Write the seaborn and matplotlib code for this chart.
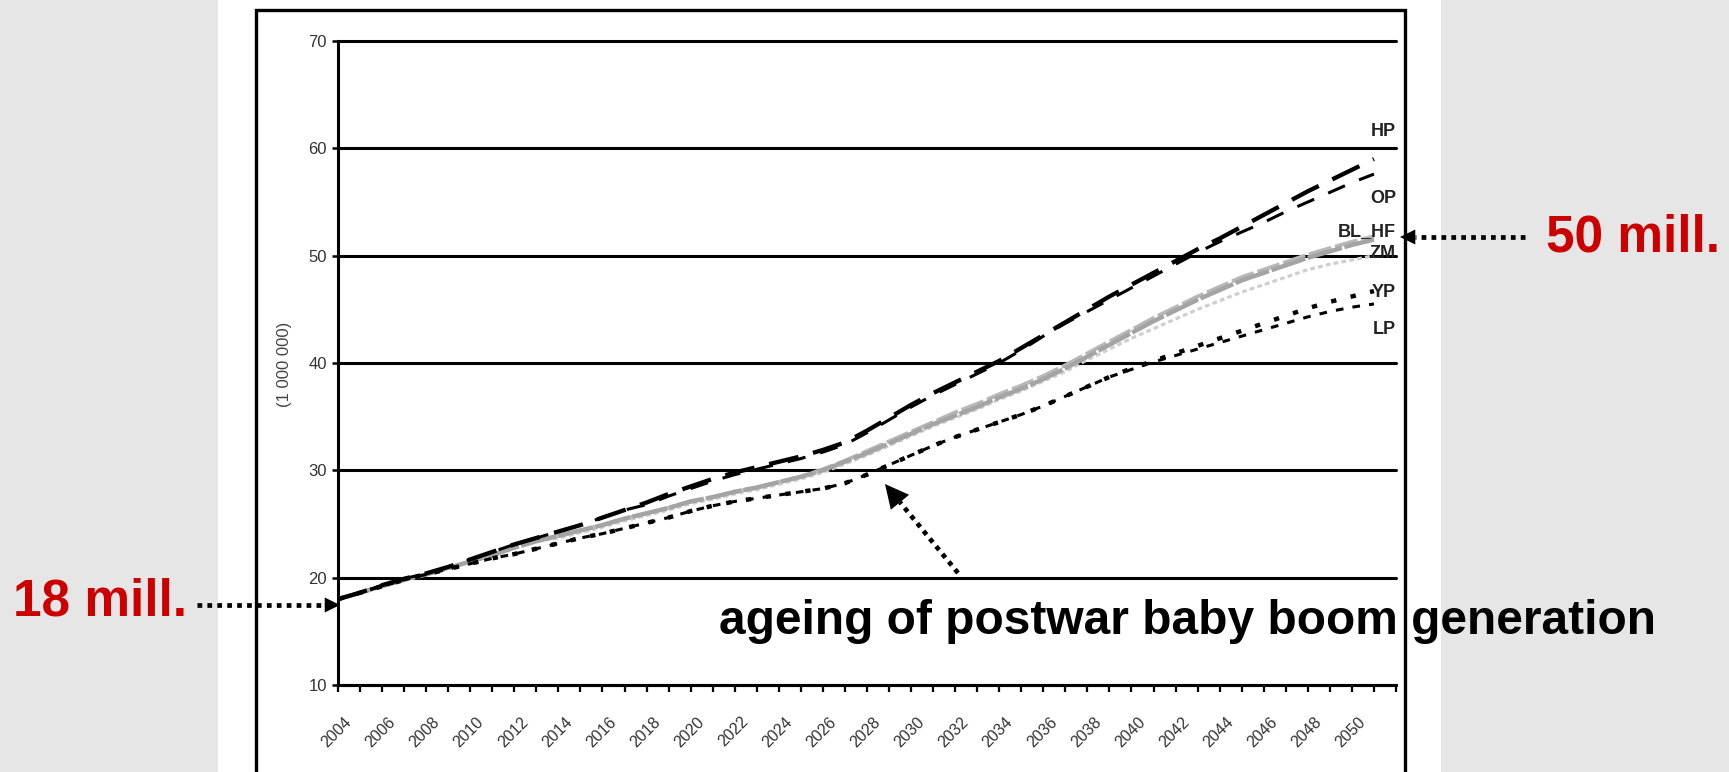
import matplotlib
matplotlib.use("Agg")
import matplotlib.pyplot as plt
from matplotlib.patches import Rectangle, FancyArrowPatch
from matplotlib.lines import Line2D
import matplotlib.transforms as mtransforms
import seaborn as sns
import pandas as pd

# ---------------- data ----------------
years = list(range(2004, 2052))

HP = [18.0, 18.6, 19.3, 19.9, 20.4, 21.0, 21.7, 22.4, 23.1, 23.7,
      24.3, 24.9, 25.6, 26.3, 27.0, 27.8, 28.5, 29.2, 29.8, 30.3,
      30.8, 31.3, 31.9, 32.6, 33.7, 34.9, 36.1, 37.2, 38.2, 39.2,
      40.2, 41.4, 42.6, 43.8, 45.0, 46.2, 47.3, 48.4, 49.5, 50.6,
      51.6, 52.7, 53.8, 54.9, 56.0, 57.0, 58.0, 59.0]
OP = [18.0, 18.6, 19.3, 19.9, 20.4, 21.0, 21.7, 22.4, 23.1, 23.7,
      24.3, 24.9, 25.6, 26.3, 26.8, 27.6, 28.3, 29.0, 29.6, 30.1,
      30.6, 31.1, 31.7, 32.4, 33.5, 34.7, 35.9, 37.0, 38.0, 39.0,
      40.0, 41.2, 42.5, 43.7, 44.8, 45.9, 47.0, 48.1, 49.2, 50.3,
      51.3, 52.2, 53.1, 54.1, 55.0, 55.9, 56.8, 57.6]
BL = [18.0, 18.6, 19.2, 19.8, 20.3, 20.9, 21.5, 22.1, 22.8, 23.4,
      23.9, 24.4, 24.9, 25.5, 26.0, 26.5, 27.1, 27.5, 28.0, 28.4,
      28.9, 29.4, 30.0, 30.8, 31.6, 32.5, 33.4, 34.3, 35.1, 35.9,
      36.8, 37.6, 38.5, 39.5, 40.6, 41.7, 42.8, 43.9, 44.9, 45.9,
      46.8, 47.7, 48.4, 49.1, 49.8, 50.4, 51.0, 51.5]
HF = [18.0, 18.6, 19.2, 19.8, 20.3, 20.9, 21.5, 22.1, 22.8, 23.4,
      23.9, 24.4, 24.9, 25.5, 26.0, 26.5, 27.1, 27.5, 28.0, 28.4,
      28.9, 29.4, 30.1, 30.9, 31.8, 32.7, 33.6, 34.5, 35.4, 36.2,
      37.1, 37.9, 38.8, 39.8, 40.9, 42.0, 43.1, 44.2, 45.2, 46.2,
      47.1, 48.0, 48.7, 49.4, 50.1, 50.7, 51.3, 51.8]
ZM = [18.0, 18.6, 19.2, 19.8, 20.3, 20.9, 21.5, 22.1, 22.8, 23.4,
      23.7, 24.2, 24.7, 25.3, 25.8, 26.3, 26.9, 27.3, 27.8, 28.2,
      28.7, 29.2, 29.8, 30.6, 31.4, 32.3, 33.2, 34.1, 34.9, 35.7,
      36.6, 37.4, 38.3, 39.2, 40.3, 41.3, 42.3, 43.2, 44.1, 45.0,
      45.8, 46.6, 47.3, 48.0, 48.7, 49.2, 49.6, 50.0]
YP = [18.0, 18.6, 19.2, 19.8, 20.3, 20.8, 21.3, 21.8, 22.2, 22.7,
      23.2, 23.7, 24.1, 24.6, 25.1, 25.6, 26.2, 26.7, 27.1, 27.4,
      27.7, 28.0, 28.3, 28.8, 29.6, 30.5, 31.4, 32.3, 33.1, 33.8,
      34.5, 35.2, 36.0, 36.9, 37.8, 38.7, 39.5, 40.2, 40.9, 41.6,
      42.3, 43.0, 43.7, 44.4, 45.1, 45.7, 46.2, 46.7]
LP = [18.0, 18.6, 19.2, 19.8, 20.3, 20.8, 21.3, 21.8, 22.2, 22.7,
      23.2, 23.7, 24.1, 24.6, 25.1, 25.6, 26.2, 26.7, 27.1, 27.4,
      27.7, 28.0, 28.3, 28.8, 29.6, 30.5, 31.4, 32.3, 33.1, 33.8,
      34.5, 35.2, 36.0, 36.9, 37.8, 38.7, 39.4, 40.1, 40.7, 41.3,
      41.9, 42.5, 43.1, 43.7, 44.3, 44.8, 45.2, 45.5]

series_names = ["ZM", "HF", "BL", "LP", "YP", "OP", "HP"]
series_values = {"HP": HP, "OP": OP, "BL": BL, "HF": HF, "ZM": ZM, "YP": YP, "LP": LP}

end_labels = ["HP", "OP", "BL_HF", "ZM", "YP", "LP"]
end_label_y = [61.6, 55.3, 52.2, 50.2, 46.6, 43.1]

y_ticks = [10, 20, 30, 40, 50, 60, 70]
x_label_years = list(range(2004, 2051, 2))

# ---------------- styles ----------------
styles = {
    "HP": dict(color="black", lw=3.1, dashes=(7, 3.5)),
    "OP": dict(color="black", lw=2.2, dashes=(6, 5)),
    "BL": dict(color="#a4a4a4", lw=3.2, dashes=(8, 0.6)),
    "HF": dict(color="#b8b8b8", lw=2.8, dashes=(6, 1.0)),
    "ZM": dict(color="#cfcfcf", lw=2.3, dashes=(1.5, 1.0)),
    "YP": dict(color="black", lw=3.2, dashes=(1.2, 3.3)),
    "LP": dict(color="black", lw=2.2, dashes=(2.5, 3.0)),
}

sns.set_style("white")
plt.rcParams["font.family"] = ["Liberation Sans", "DejaVu Sans"]

W, H = 1729, 772
fig = plt.figure(figsize=(W / 100, H / 100), dpi=100)
fig.patch.set_facecolor("#e6e6e6")


def fx(px):
    return px / W


def fy(py):
    return 1 - py / H


# white panel and black frame
fig.add_artist(Rectangle((fx(218), 0), fx(1441) - fx(218), 1, transform=fig.transFigure,
                         facecolor="white", edgecolor="none", zorder=-5))
fig.add_artist(Rectangle((fx(256), -0.1), fx(1405) - fx(256), fy(10) + 0.1,
                         transform=fig.transFigure, facecolor="none",
                         edgecolor="black", lw=2.4, zorder=2))

ax = fig.add_axes([fx(338), 1 - 685 / H, fx(1396) - fx(338), (685 - 41) / H])
ax.set_facecolor("none")

df = pd.DataFrame([(s, y, v) for s in series_names for y, v in zip(years, series_values[s])],
                  columns=["series", "year", "value"])

for s in series_names:
    st = styles[s]
    sns.lineplot(data=df[df["series"] == s], x="year", y="value", ax=ax,
                 color=st["color"], lw=st["lw"], legend=False, zorder=3)
    ln = ax.lines[-1]
    ln.set_dashes(st["dashes"])
    ln.set_dash_capstyle("butt")

ax.set_xlim(2004, 2052)
ax.set_ylim(10, 70)
ax.set_yticks(y_ticks)
ax.set_xticks(list(range(2004, 2053)))
ax.set_xticklabels([str(y) if y in x_label_years else "" for y in range(2004, 2053)])
ax.set_xlabel("")
ax.set_ylabel("")

ax.yaxis.grid(True, color="black", lw=2.2)
ax.xaxis.grid(False)
ax.set_axisbelow(True)
for gl in ax.get_ygridlines():
    gl.set_clip_on(False)
for side in ["top", "right"]:
    ax.spines[side].set_visible(False)
for side in ["left", "bottom"]:
    ax.spines[side].set_color("black")
    ax.spines[side].set_linewidth(2.2)

ax.tick_params(axis="y", left=True, length=4, width=1.8, color="black", pad=4,
               labelsize=12, labelcolor="#333333")
ax.tick_params(axis="x", bottom=True, length=5, width=1.6, color="black", pad=16,
               labelsize=11.5, labelcolor="#333333")
offset = mtransforms.ScaledTranslation(6 / 100, 0, fig.dpi_scale_trans)
for lab in ax.get_xticklabels():
    lab.set_rotation(45)
    lab.set_ha("right")
    lab.set_va("top")
    lab.set_rotation_mode("anchor")
    lab.set_transform(lab.get_transform() + offset)

# end labels
for t, yv in zip(end_labels, end_label_y):
    ax.text(2052, yv, t, ha="right", va="center", fontsize=13, fontweight="bold",
            color="#222222", zorder=6)

fig.text(fx(284), fy(364), "(1 000 000)", rotation=90, ha="center", va="center",
         fontsize=12, color="#444444")

# annotations
red = "#cc0000"
fig.text(fx(13), fy(616), "18 mill.", ha="left", va="baseline", fontsize=37,
         fontweight="bold", color=red, zorder=10)
fig.text(fx(1546), fy(252), "50 mill.", ha="left", va="baseline", fontsize=37,
         fontweight="bold", color=red, zorder=10)
fig.text(fx(719), fy(634), "ageing of postwar baby boom generation", ha="left",
         va="baseline", fontsize=34.5, fontweight="bold", color="black", zorder=10)


def dotted_arrow(tail, tip, head_len, head_w):
    (x0, y0), (x1, y1) = tail, tip
    dx, dy = x1 - x0, y1 - y0
    L = (dx ** 2 + dy ** 2) ** 0.5
    ux, uy = dx / L, dy / L
    hl_px = head_len * 100 / 72
    bx, by = x1 - ux * hl_px, y1 - uy * hl_px
    fig.add_artist(Line2D([fx(x0), fx(bx)], [fy(y0), fy(by)], transform=fig.transFigure,
                          color="black", lw=3.4, linestyle=(0, (1, 1.1)),
                          dash_capstyle="butt", zorder=9))
    fig.add_artist(FancyArrowPatch((fx(bx), fy(by)), (fx(x1), fy(y1)),
                                   transform=fig.transFigure,
                                   arrowstyle=f"-|>,head_length={head_len},head_width={head_w}",
                                   mutation_scale=1, shrinkA=0, shrinkB=0,
                                   facecolor="black", edgecolor="black", lw=0, zorder=9))


dotted_arrow((197, 605), (340, 605), 11, 5.4)
dotted_arrow((1525, 237), (1400, 237), 11, 5.4)
dotted_arrow((958, 573), (885, 484), 17, 8.5)

fig.savefig("out.png", dpi=100, facecolor=fig.get_facecolor())
